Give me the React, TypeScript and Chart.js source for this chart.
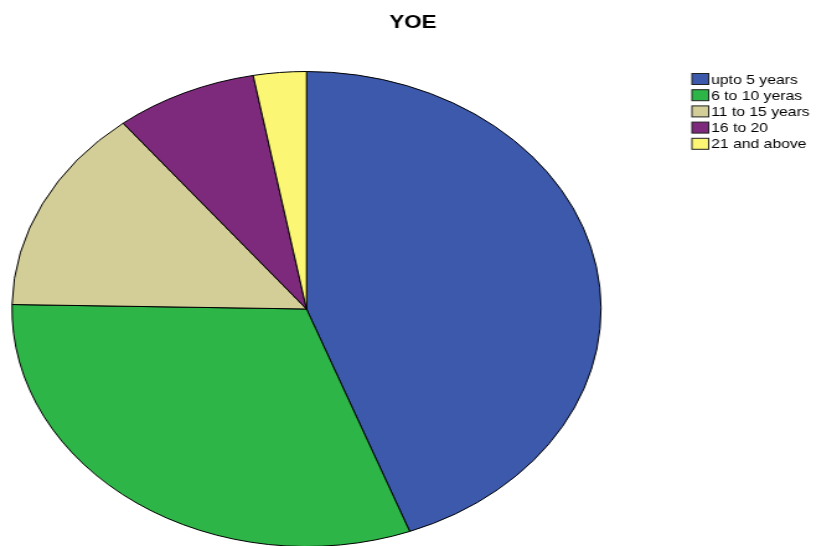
import React, { useEffect, useRef } from "react";
import { Chart, registerables } from "chart.js";

Chart.register(...registerables);

const titleText = "YOE";
const categories = ["upto 5 years", "6 to 10 yeras", "11 to 15 years", "16 to 20", "21 and above"];
const shares = [44.3, 31.0, 14.0, 7.8, 2.9];
const sliceColors = ["#3D59AB", "#2EB548", "#D3CE97", "#7D2A7C", "#FBF775"];

const STRETCH = 1.24; // horizontal stretch of the whole reference picture
const CW = Math.round(816 / STRETCH);
const CH = 560;
const FONT = "'Liberation Sans', Arial, Helvetica, sans-serif";

const decorPlugin = {
  id: "decor",
  afterDraw(chart: any) {
    const ctx = chart.ctx;
    ctx.save();
    // title
    ctx.fillStyle = "#000";
    ctx.font = `bold 18px ${FONT}`;
    ctx.textAlign = "center";
    ctx.textBaseline = "alphabetic";
    ctx.fillText(titleText, 333, 28);
    // legend
    const labels: string[] = chart.data.labels;
    const colors: string[] = chart.data.datasets[0].backgroundColor;
    ctx.font = `12.7px ${FONT}`;
    ctx.textAlign = "left";
    labels.forEach((lab, i) => {
      const top = 73.5 + i * 16.2;
      ctx.fillStyle = colors[i];
      ctx.fillRect(558, top, 13.5, 11);
      ctx.strokeStyle = "#222";
      ctx.lineWidth = 1;
      ctx.strokeRect(558, top, 13.5, 11);
      ctx.fillStyle = "#000";
      ctx.fillText(lab, 573.5, top + 10);
    });
    ctx.restore();
  },
};

export default function App() {
  const ref = useRef<HTMLCanvasElement | null>(null);
  useEffect(() => {
    document.body.style.margin = "0";
    const canvas = ref.current!;
    const chart = new Chart(canvas, {
      type: "pie",
      data: {
        labels: categories,
        datasets: [
          {
            data: shares,
            backgroundColor: sliceColors,
            borderColor: "#000",
            borderWidth: 1,
          },
        ],
      },
      options: {
        responsive: false,
        animation: false,
        devicePixelRatio: 1,
        layout: { padding: { left: 9.2, right: CW - 485.2, top: 71, bottom: CH - 547 } },
        plugins: {
          legend: { display: false },
          title: { display: false },
          tooltip: { enabled: false },
        },
      },
      plugins: [decorPlugin],
    });
    return () => chart.destroy();
  }, []);
  return (
    <div
      style={{
        position: "fixed",
        left: 0,
        top: 0,
        width: 816,
        height: 546,
        overflow: "hidden",
        background: "#fff",
      }}
    >
      <div style={{ transform: `scale(${STRETCH}, 1)`, transformOrigin: "0 0", width: CW, height: CH }}>
        <canvas ref={ref} width={CW} height={CH} style={{ width: CW, height: CH, display: "block" }} />
      </div>
    </div>
  );
}
